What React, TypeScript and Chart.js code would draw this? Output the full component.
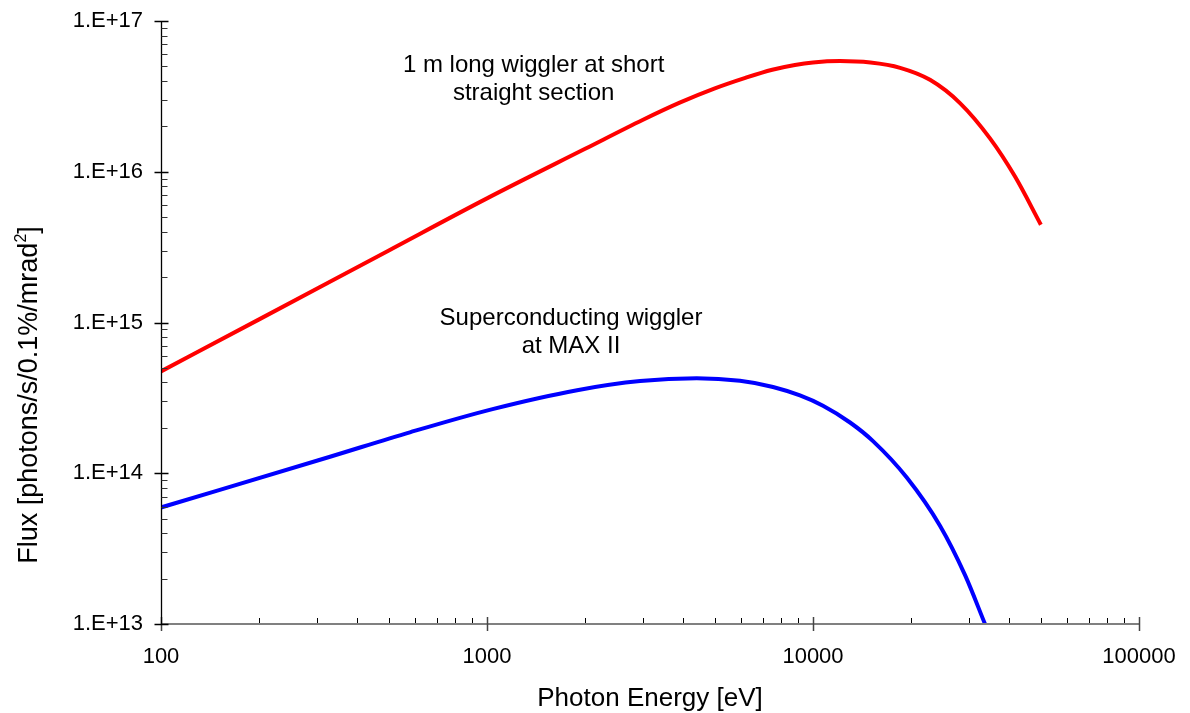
import React, { useEffect, useRef } from "react";
import { Chart, registerables } from "chart.js";

Chart.register(...registerables);

// ---- data ----
const redEnergy = [100, 200, 500, 1000, 2000, 3000, 3900, 5000, 6200, 7500, 8800, 10000, 12100, 15000, 18500, 22850, 28240, 34910, 41660, 50000];
const redFlux = [4.74e14, 1.049e15, 3.008e15, 6.66e15, 1.419e16, 2.205e16, 2.873e16, 3.574e16, 4.196e16, 4.75e16, 5.11e16, 5.31e16, 5.425e16, 5.3e16, 4.893e16, 4.073e16, 2.855e16, 1.665e16, 9.29e15, 4.455e15];

const blueEnergy = [100, 330, 580, 1040, 1890, 2950, 4400, 5970, 7540, 9120, 10730, 12990, 15280, 19420, 24520, 29270, 33700];
const blueFlux = [5.93e13, 1.287e14, 1.869e14, 2.665e14, 3.557e14, 4.089e14, 4.267e14, 4.101e14, 3.736e14, 3.28e14, 2.803e14, 2.171e14, 1.634e14, 9.335e13, 4.488e13, 2.109e13, 1.0e13];

const xTickValues = [100, 1000, 10000, 100000];
const yTickValues = [1e13, 1e14, 1e15, 1e16, 1e17];

const xTitle = "Photon Energy [eV]";
const yTitleMain = "Flux [photons/s/0.1%/mrad";
const yTitleSup = "2";
const yTitleEnd = "]";

const annotationLines = [
  ["1 m long wiggler at short", "straight section"],
  ["Superconducting wiggler", "at MAX II"],
];
const annotationX = [1390, 1810];
const annotationY = [4.58e16, 9.57e14];

const FONT = "'Liberation Sans', Arial, Helvetica, sans-serif";

const customPlugin = {
  id: "customAxes",
  afterDraw(chart: any) {
    const { ctx, chartArea, scales } = chart;
    const { left, right, top, bottom } = chartArea;
    const xs = scales.x;
    const ys = scales.y;
    ctx.save();

    // x axis line
    ctx.strokeStyle = "#808080";
    ctx.lineWidth = 2;
    ctx.beginPath();
    ctx.moveTo(left, bottom);
    ctx.lineTo(right, bottom);
    ctx.stroke();

    // x minor ticks (inside)
    ctx.strokeStyle = "#000";
    ctx.lineWidth = 1;
    ctx.beginPath();
    for (let i = 0; i < xTickValues.length - 1; i++) {
      for (let k = 2; k <= 9; k++) {
        const px = Math.round(xs.getPixelForValue(xTickValues[i] * k)) + 0.5;
        ctx.moveTo(px, bottom - 1);
        ctx.lineTo(px, bottom - 6);
      }
    }
    ctx.stroke();

    // x major ticks (crossing)
    ctx.strokeStyle = "#444";
    ctx.lineWidth = 1.5;
    ctx.beginPath();
    for (const v of xTickValues) {
      const px = Math.round(xs.getPixelForValue(v)) + 0.5;
      ctx.moveTo(px, bottom - 7);
      ctx.lineTo(px, bottom + 7);
    }
    ctx.stroke();

    // y axis line
    const ax = Math.round(left) + 0.5;
    ctx.strokeStyle = "#000";
    ctx.lineWidth = 1.3;
    ctx.beginPath();
    ctx.moveTo(ax, top);
    ctx.lineTo(ax, bottom);
    ctx.stroke();

    // y minor ticks (inside)
    ctx.lineWidth = 1;
    ctx.strokeStyle = "#333";
    ctx.beginPath();
    for (let i = 0; i < yTickValues.length - 1; i++) {
      for (let k = 2; k <= 9; k++) {
        const py = Math.round(ys.getPixelForValue(yTickValues[i] * k)) + 0.5;
        ctx.moveTo(ax, py);
        ctx.lineTo(ax + 6, py);
      }
    }
    ctx.stroke();

    // y major ticks (crossing)
    ctx.strokeStyle = "#000";
    ctx.lineWidth = 1.5;
    ctx.beginPath();
    for (const v of yTickValues) {
      const py = Math.round(ys.getPixelForValue(v)) + 0.5;
      ctx.moveTo(ax - 7, py);
      ctx.lineTo(ax + 7, py);
    }
    ctx.stroke();

    // annotations
    ctx.fillStyle = "#000";
    ctx.font = `24px ${FONT}`;
    ctx.textAlign = "center";
    ctx.textBaseline = "alphabetic";
    annotationLines.forEach((lines, i) => {
      const cx = xs.getPixelForValue(annotationX[i]);
      const by = ys.getPixelForValue(annotationY[i]);
      lines.forEach((t, j) => ctx.fillText(t, cx, by + j * 28));
    });

    // x title
    ctx.font = `26px ${FONT}`;
    ctx.textAlign = "center";
    ctx.fillText(xTitle, (left + right) / 2, 706);

    // y title with superscript
    ctx.translate(37, 395);
    ctx.rotate(-Math.PI / 2);
    ctx.textAlign = "left";
    ctx.font = `27px ${FONT}`;
    const wMain = ctx.measureText(yTitleMain).width;
    const wEnd = ctx.measureText(yTitleEnd).width;
    ctx.font = `16px ${FONT}`;
    const wSup = ctx.measureText(yTitleSup).width;
    const total = wMain + wSup + wEnd;
    let sx = -total / 2;
    ctx.font = `27px ${FONT}`;
    ctx.fillText(yTitleMain, sx, 0);
    sx += wMain;
    ctx.font = `16px ${FONT}`;
    ctx.fillText(yTitleSup, sx, -11);
    sx += wSup;
    ctx.font = `27px ${FONT}`;
    ctx.fillText(yTitleEnd, sx, 0);

    ctx.restore();
  },
};

export default function App() {
  const ref = useRef<HTMLCanvasElement | null>(null);

  useEffect(() => {
    if (!ref.current) return;
    const chart = new Chart(ref.current, {
      type: "line",
      data: {
        datasets: [
          {
            label: "1 m long wiggler at short straight section",
            data: redEnergy.map((e, i) => ({ x: e, y: redFlux[i] })),
            borderColor: "#ff0000",
            backgroundColor: "#ff0000",
            borderWidth: 4,
            pointRadius: 0,
            fill: false,
            cubicInterpolationMode: "monotone",
          },
          {
            label: "Superconducting wiggler at MAX II",
            data: blueEnergy.map((e, i) => ({ x: e, y: blueFlux[i] })),
            borderColor: "#0000ff",
            backgroundColor: "#0000ff",
            borderWidth: 4,
            pointRadius: 0,
            fill: false,
            cubicInterpolationMode: "monotone",
          },
        ],
      },
      options: {
        responsive: false,
        animation: false,
        devicePixelRatio: 1,
        layout: { padding: { top: 21, right: 51, left: 0, bottom: 0 } },
        plugins: { legend: { display: false }, tooltip: { enabled: false } },
        scales: {
          x: {
            type: "logarithmic",
            position: "bottom",
            min: 100,
            max: 100000,
            grid: { display: false, drawTicks: false },
            border: { display: false },
            afterBuildTicks: (s: any) => {
              s.ticks = xTickValues.map((v) => ({ value: v }));
            },
            afterFit: (s: any) => {
              s.height = 89;
              s.paddingLeft = 0;
              s.paddingRight = 0;
            },
            ticks: {
              autoSkip: false,
              maxRotation: 0,
              padding: 20,
              color: "#000",
              font: { family: FONT, size: 22 },
              callback: (v: any) => String(v),
            },
          },
          y: {
            type: "logarithmic",
            position: "left",
            min: 1e13,
            max: 1e17,
            grid: { display: false, drawTicks: false },
            border: { display: false },
            afterBuildTicks: (s: any) => {
              s.ticks = yTickValues.map((v) => ({ value: v }));
            },
            afterFit: (s: any) => {
              s.width = 161;
              s.paddingTop = 0;
              s.paddingBottom = 0;
            },
            ticks: {
              autoSkip: false,
              padding: 18,
              color: "#000",
              font: { family: FONT, size: 22 },
              callback: (v: any) => "1.E+" + Math.round(Math.log10(Number(v))),
            },
          },
        },
      },
      plugins: [customPlugin],
    });
    return () => chart.destroy();
  }, []);

  return (
    <div style={{ position: "fixed", left: 0, top: 0, width: 1190, height: 713, background: "#fff" }}>
      <canvas ref={ref} width={1190} height={713} style={{ display: "block" }} />
    </div>
  );
}
